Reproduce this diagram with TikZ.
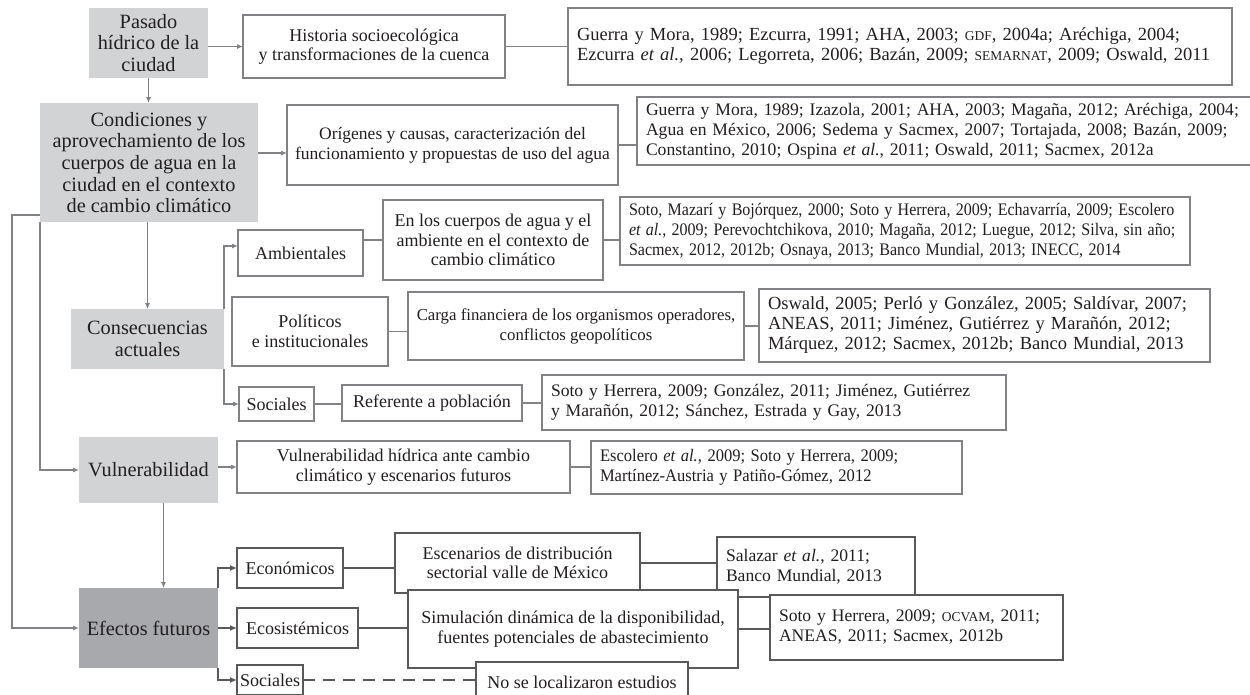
\documentclass[tikz,border=0pt]{standalone}
\usepackage{fontspec}
\usepackage{graphicx}
\setmainfont{Liberation Serif}
\usetikzlibrary{arrows.meta,calc}
\definecolor{ink}{HTML}{231F20}
\definecolor{rule}{HTML}{808285}
\definecolor{ruledark}{HTML}{58595B}
\definecolor{shadelight}{HTML}{D1D3D4}
\definecolor{shadedark}{HTML}{A7A9AC}
\newcommand\citesize{\fontsize{17.6}{20}\selectfont}
\newcommand\boxsize{\fontsize{18}{19.5}\selectfont}
\newcommand\headsize{\fontsize{20.3}{21.7}\selectfont}
\newcommand\sized[1]{\fontsize{#1}{20}\selectfont}
\newcommand\acro[1]{{\fontsize{13.5}{20}\selectfont #1}}
\newcommand\reflines[1]{\begin{tabular}{@{}l@{}}#1\end{tabular}}
% condensed reference block: horizontal factor, then lines
\newcommand\condlines[2]{\scalebox{#1}[1]{\reflines{#2}}}

\begin{document}
\begin{tikzpicture}[x=1pt,y=-1pt,
  every node/.style={text=ink},
  base/.style={anchor=north west, inner sep=0pt, outer sep=0pt},
  head/.style={base, fill=shadelight, align=center, font=\headsize},
  headdark/.style={head, fill=shadedark},
  topic/.style={base, draw=rule, line width=1.1pt, fill=white, align=center, font=\boxsize},
  refs/.style={base, draw=rule, line width=1.1pt, fill=white, align=left, font=\citesize, inner xsep=9pt},
  topicB/.style={topic, draw=ruledark, line width=2.4pt},
  refsB/.style={refs, draw=ruledark, line width=2.4pt},
  link/.style={draw=rule, line width=1.1pt},
  flow/.style={link, -{Latex[length=6pt,width=5pt]}},
  linkB/.style={draw=ruledark, line width=2.4pt},
  flowB/.style={linkB, -{Latex[length=7pt,width=6pt]}},
]
\clip (0,0) rectangle (1250,694);
\fill[white] (0,0) rectangle (1250,694);

% --- past of the city
\node[head, minimum width=119pt, minimum height=70pt] (pasado) at (89,8) {Pasado\\hídrico de la\\ciudad};
\node[topic, minimum width=262pt, minimum height=63pt] (hist) at (243,15) {Historia socioecológica\\y transformaciones de la cuenca};
\node[refs, text width=646pt, minimum height=77pt, font=\sized{18.5}] (r1) at (568,8) {\reflines{Guerra y Mora, 1989; Ezcurra, 1991; AHA, 2003; \acro{GDF}, 2004a; Aréchiga, 2004;\\Ezcurra \textit{et al.,} 2006; Legorreta, 2006; Bazán, 2009; \acro{SEMARNAT}, 2009; Oswald, 2011}};

% --- present conditions
\node[head, minimum width=218pt, minimum height=119pt] (cond) at (40,103) {Condiciones y\\aprovechamiento de los\\cuerpos de agua en la\\ciudad en el contexto\\de cambio climático};
\node[topic, minimum width=331pt, minimum height=80pt, font=\sized{17.5}] (orig) at (287,105) {Orígenes y causas, caracterización del\\funcionamiento y propuestas de uso del agua};
\node[refs, text width=607pt, minimum height=68pt] (r2) at (637,97) {\reflines{Guerra y Mora, 1989; Izazola, 2001; AHA, 2003; Magaña, 2012; Aréchiga, 2004;\\Agua en México, 2006; Sedema y Sacmex, 2007; Tortajada, 2008; Bazán, 2009;\\Constantino, 2010; Ospina \textit{et al.}, 2011; Oswald, 2011; Sacmex, 2012a}};

% --- current consequences
\node[head, minimum width=153pt, minimum height=60pt] (cons) at (71,309) {Consecuencias\\actuales};
\node[topic, minimum width=125pt, minimum height=46pt] (amb) at (238,230) {Ambientales};
\node[topic, minimum width=220pt, minimum height=80pt] (env) at (383,200) {En los cuerpos de agua y el\\ambiente en el contexto de\\cambio climático};
\node[refs, text width=552pt, minimum height=68pt] (r3) at (620,197) {\condlines{0.91}{Soto, Mazarí y Bojórquez, 2000; Soto y Herrera, 2009; Echavarría, 2009; Escolero\\\textit{et al.}, 2009; Perevochtchikova, 2010; Magaña, 2012; Luegue, 2012; Silva, sin año;\\Sacmex, 2012, 2012b; Osnaya, 2013; Banco Mundial, 2013; INECC, 2014}};
\node[topic, minimum width=156pt, minimum height=69pt] (pol) at (232,297) {Políticos\\e institucionales};
\node[topic, minimum width=336pt, minimum height=68pt, font=\sized{16.8}] (fin) at (408,292) {Carga financiera de los organismos operadores,\\conflictos geopolíticos};
\node[refs, text width=433pt, minimum height=73pt, font=\sized{18.5}] (r4) at (759,289) {\reflines{Oswald, 2005; Perló y González, 2005; Saldívar, 2007;\\ANEAS, 2011; Jiménez, Gutiérrez y Marañón, 2012;\\Márquez, 2012; Sacmex, 2012b; Banco Mundial, 2013}};
\node[topic, minimum width=75pt, minimum height=34pt] (soc) at (239,387) {Sociales};
\node[topic, minimum width=180pt, minimum height=36pt] (pob) at (342,385) {Referente a población};
\node[refs, text width=446pt, minimum height=55pt] (r5) at (542,375) {\reflines{Soto y Herrera, 2009; González, 2011; Jiménez, Gutiérrez\\y Marañón, 2012; Sánchez, Estrada y Gay, 2013}};

% --- vulnerability
\node[head, minimum width=139pt, minimum height=66pt] (vul) at (79,437) {Vulnerabilidad};
\node[topic, minimum width=333pt, minimum height=52pt] (vh) at (237,441) {Vulnerabilidad hídrica ante cambio\\climático y escenarios futuros};
\node[refs, text width=353pt, minimum height=53pt] (r6) at (591,441) {\condlines{0.94}{Escolero \textit{et al.}, 2009; Soto y Herrera, 2009;\\Martínez-Austria y Patiño-Gómez, 2012}};

% --- future effects
\node[headdark, minimum width=139pt, minimum height=80pt] (ef) at (79,588) {Efectos futuros};
\node[topicB, minimum width=106pt, minimum height=40pt] (eco) at (237,548) {Económicos};
\node[topicB, minimum width=245pt, minimum height=60pt] (esc) at (395,533) {Escenarios de distribución\\sectorial valle de México};
\node[refsB, text width=180pt, minimum height=60pt] (r7) at (717,537) {\reflines{Salazar \textit{et al.}, 2011;\\Banco Mundial, 2013}};
\node[topicB, minimum width=121pt, minimum height=40pt] (ecs) at (237,608) {Ecosistémicos};
\node[topicB, minimum width=330pt, minimum height=78pt] (sim) at (408,590) {Simulación dinámica de la disponibilidad,\\fuentes potenciales de abastecimiento};
\node[refsB, text width=275pt, minimum height=65pt] (r8) at (770,595) {\reflines{Soto y Herrera, 2009; \acro{OCVAM}, 2011;\\ANEAS, 2011; Sacmex, 2012b}};
\node[topicB, minimum width=66pt, minimum height=30pt] (soc2) at (237,665) {Sociales};
\node[topicB, minimum width=212pt, minimum height=40pt] (none) at (476,662) {No se localizaron estudios};

% --- connectors
\coordinate (oin) at ($(orig.west)+(0,8)$);
\coordinate (ain) at ($(amb.west)+(0,-7)$);
\coordinate (ltap) at ($(cond.south west)+(0,-7)$);

\draw[flow] (pasado.east |- hist.west) -- (hist.west);
\draw[link] (hist.east) -- (hist.east -| r1.west);
\draw[flow] (pasado.south) -- (pasado.south |- cond.north);
\draw[flow] (cond.east |- oin) -- (oin);
\draw[link] (orig.east) -- (orig.east -| r2.west);
\draw[flow] (cond.south -| cons.north) -- (cons.north);
\draw[flow] (cons.north east) |- (ain);
\draw[flow] (cons.south east) |- (soc.west);
\draw[link] (env.west -| amb.east) -- (env.west);
\draw[link] (env.east) -- (env.east -| r3.west);
\draw[link] (pol.east) -- (pol.east -| fin.west);
\draw[link] (fin.east) -- (fin.east -| r4.west);
\draw[link] (soc.east) -- (soc.east -| pob.west);
\draw[link] (pob.east) -- (pob.east -| r5.west);
\draw[flow] (cond.south west) |- (vul.west);
\draw[flow] (ltap) -- ++(-28,0) |- (ef.west);
\draw[flow] (vul.east |- vh.west) -- (vh.west);
\draw[link] (vh.east) -- (vh.east -| r6.west);
\draw[flow] ([xshift=15pt]vul.south) -- ([xshift=15pt]ef.north);
\draw[flowB] (ef.north east) |- (eco.west);
\draw[flowB] (ef.east |- ecs.west) -- (ecs.west);
\draw[flowB] (ef.south east) |- (soc2.west);
\draw[linkB] (eco.east) -- (eco.east -| esc.west);
\draw[linkB] (esc.east) -- (esc.east -| r7.west);
\draw[linkB] (ecs.east) -- (ecs.east -| sim.west);
\draw[linkB] (sim.east) -- (sim.east -| r8.west);
\draw[linkB, dash pattern=on 12pt off 8pt] (soc2.east) -- (soc2.east -| none.west);
\end{tikzpicture}
\end{document}
